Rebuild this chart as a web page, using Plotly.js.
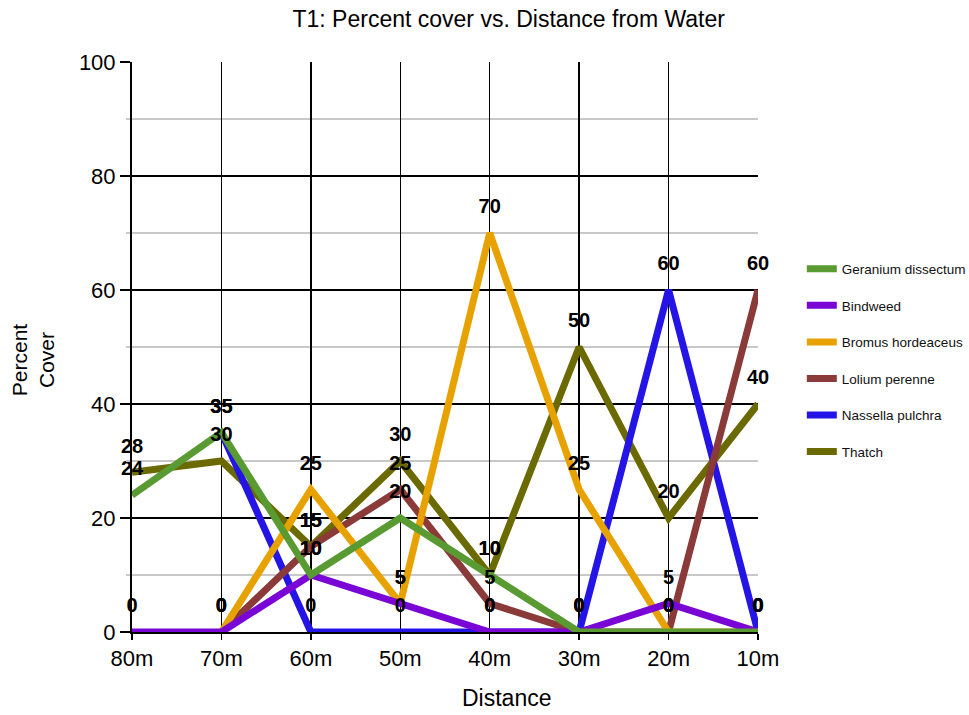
<!DOCTYPE html>
<html>
<head>
<meta charset="utf-8">
<script src="https://cdn.plot.ly/plotly-3.0.1.min.js"></script>
<style>html,body{margin:0;padding:0;background:#fff;}#chart{width:969px;height:715px;}</style>
</head>
<body>
<div id="chart"></div>
<script>
var distances = ['80m','70m','60m','50m','40m','30m','20m','10m'];
var geranium = [24, 35, 10, 20, 10, 0, 0, 0];
var bindweed = [0, 0, 10, 5, 0, 0, 5, 0];
var bromus = [null, 0, 25, 5, 70, 25, 0, 0];
var lolium = [null, 0, 15, 25, 5, 0, 0, 60];
var nassella = [null, 35, 0, 0, 0, 0, 60, 0];
var thatch = [28, 30, 15, 30, 10, 50, 20, 40];
var seriesNames = ['Geranium dissectum','Bindweed','Bromus hordeaceus','Lolium perenne','Nassella pulchra','Thatch'];
var seriesColors = ['#5a9a32','#7a06d6','#e8a200','#8b3a3a','#2414e6','#6b6a00'];
var seriesValues = [geranium, bindweed, bromus, lolium, nassella, thatch];

var traces = [];
// draw in reverse so the first series sits on top
for (var i = seriesValues.length - 1; i >= 0; i--) {
  traces.push({
    type: 'scatter',
    mode: 'lines',
    name: seriesNames[i],
    legendgroup: 'g' + i,
    legendrank: i + 1,
    x: distances,
    y: seriesValues[i],
    line: {color: seriesColors[i], width: 7},
    cliponaxis: false,
    hoverinfo: 'x+y+name'
  });
}
for (var j = seriesValues.length - 1; j >= 0; j--) {
  traces.push({
    type: 'scatter',
    mode: 'markers+text',
    showlegend: false,
    x: distances,
    y: seriesValues[j],
    text: seriesValues[j].map(function(v){ return v === null ? '' : String(v); }),
    textposition: 'top center',
    textfont: {family: 'Liberation Sans, Arial, sans-serif', size: 20, color: '#000', weight: 700},
    marker: {size: 22, opacity: 0, color: seriesColors[j]},
    cliponaxis: false,
    hoverinfo: 'skip'
  });
}

var layout = {
  width: 969, height: 715,
  paper_bgcolor: '#fff', plot_bgcolor: '#fff',
  margin: {l: 132, r: 211, t: 62, b: 83, autoexpand: false},
  font: {family: 'Liberation Sans, Arial, sans-serif', color: '#000'},
  title: {text: 'T1: Percent cover vs. Distance from Water', x: 0.525, xanchor: 'center', xref: 'container', y: 0.974, yanchor: 'middle', font: {size: 23, color: '#000'}},
  xaxis: {
    type: 'category', range: [0, 7],
    showgrid: true, gridcolor: '#000', gridwidth: 1.5,
    showline: true, linecolor: '#000', linewidth: 2,
    ticks: 'outside', ticklen: 6, tickcolor: '#000', tickwidth: 1.5,
    tickfont: {size: 22}, zeroline: false
  },
  yaxis: {
    range: [0, 100], dtick: 20, tick0: 0,
    showgrid: true, gridcolor: '#000', gridwidth: 1.5,
    showline: true, linecolor: '#000', linewidth: 2,
    ticks: 'outside', ticklen: 10, tickcolor: '#000', tickwidth: 1.5,
    tickfont: {size: 22}, zeroline: false,
    minor: {dtick: 10, showgrid: true, gridcolor: '#c8c8c8', gridwidth: 1.5, ticks: 'outside', ticklen: 4, tickcolor: '#c8c8c8'}
  },
  showlegend: true,
  legend: {
    x: 1.07, xanchor: 'left', y: 0.664, yanchor: 'top',
    traceorder: 'grouped', tracegroupgap: 16,
    font: {size: 13.5, color: '#111'},
    bgcolor: 'rgba(0,0,0,0)'
  },
  annotations: [{
    text: 'Percent<br>Cover', xref: 'paper', yref: 'paper',
    x: -0.158, y: 0.477, xanchor: 'center', yanchor: 'middle', textangle: -90,
    showarrow: false, font: {size: 21, color: '#000'}, align: 'center'
  }, {
    text: 'Distance', xref: 'paper', yref: 'paper',
    x: 0.598, y: -0.116, xanchor: 'center', yanchor: 'middle',
    showarrow: false, font: {size: 23, color: '#000'}
  }]
};

Plotly.newPlot('chart', traces, layout, {displayModeBar: false, staticPlot: true});
</script>
</body>
</html>
